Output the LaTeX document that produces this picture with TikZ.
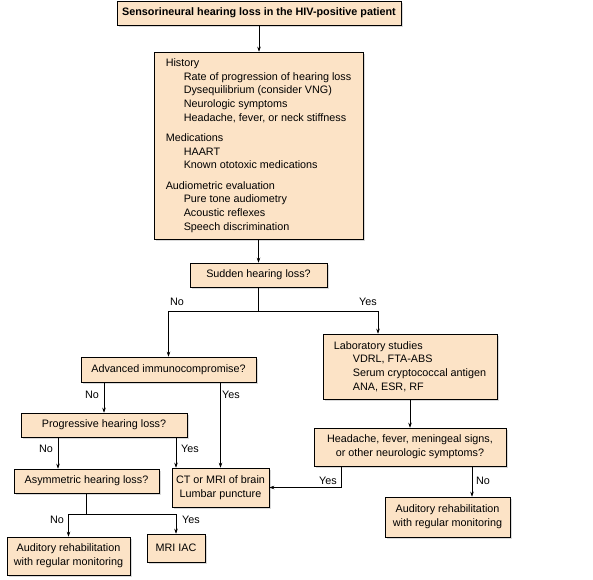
\documentclass[tikz,border=0pt]{standalone}
\usepackage{fontspec}
\setmainfont{Liberation Sans}
\usetikzlibrary{arrows.meta,shadows}

\definecolor{boxfill}{RGB}{252,227,198}

\tikzset{
	box/.style={draw, fill=boxfill, line width=0.6pt, inner sep=0pt, align=center,
		drop shadow={shadow xshift=1.5pt, shadow yshift=-1.5pt, fill=black!18, opacity=0.8}},
	arr/.style={-{Stealth[length=5pt, width=3.5pt]}, line width=0.6pt},
	line/.style={line width=0.6pt},
	lbl/.style={inner sep=0pt}
}

\begin{document}
\begin{tikzpicture}[x=1pt, y=-1pt, font=\fontsize{10.8}{13.7}\selectfont]

	\useasboundingbox (0,0) rectangle (593,579);

	% boxes
	\node[box, minimum width=284, minimum height=24, font=\fontsize{10.8}{13}\selectfont\bfseries] (title) at (259,13) {Sensorineural hearing loss in the HIV-positive patient};
	\node[box, minimum width=209, minimum height=187, align=left] (main) at (258.5,145.5)
		{History\\
		\hspace*{18pt}Rate of progression of hearing loss\\
		\hspace*{18pt}Dysequilibrium (consider VNG)\\
		\hspace*{18pt}Neurologic symptoms\\
		\hspace*{18pt}Headache, fever, or neck stiffness\\[6.5pt]
		Medications\\
		\hspace*{18pt}HAART\\
		\hspace*{18pt}Known ototoxic medications\\[6.5pt]
		Audiometric evaluation\\
		\hspace*{18pt}Pure tone audiometry\\
		\hspace*{18pt}Acoustic reflexes\\
		\hspace*{18pt}Speech discrimination};
	\node[box, minimum width=137, minimum height=24] (sudden) at (258.5,275) {Sudden hearing loss?};
	\node[box, minimum width=175, minimum height=25] (adv) at (168.5,369.5) {Advanced immunocompromise?};
	\node[box, minimum width=174, minimum height=65, align=left] (lab) at (410,366.5)
		{Laboratory studies\\
		\hspace*{19pt}VDRL, FTA-ABS\\
		\hspace*{19pt}Serum cryptococcal antigen\\
		\hspace*{19pt}ANA, ESR, RF};
	\node[box, minimum width=166, minimum height=24] (prog) at (104,425) {Progressive hearing loss?};
	\node[box, minimum width=145, minimum height=24] (asym) at (86.5,481) {Asymmetric hearing loss?};
	\node[box, minimum width=97, minimum height=39] (ct) at (220.5,487.5) {CT or MRI of brain\\Lumbar puncture};
	\node[box, minimum width=192, minimum height=38] (head) at (410,447) {Headache, fever, meningeal signs,\\or other neurologic symptoms?};
	\node[box, minimum width=125, minimum height=40] (audR) at (447.5,517) {Auditory rehabilitation\\with regular monitoring};
	\node[box, minimum width=123, minimum height=38] (audL) at (68.5,556) {Auditory rehabilitation\\with regular monitoring};
	\node[box, minimum width=58, minimum height=28] (mri) at (176,548) {MRI IAC};

	% connectors
	\draw[arr] (title.south) -- (title.south |- main.north);
	\draw[arr] (main.south) -- (sudden.north);
	\draw[line] (sudden.south) -- ++(0,24) coordinate (split);
	\draw[arr] (split) -| (adv.north);
	\draw[arr] (split) -| ([xshift=-32pt]lab.north);
	\draw[arr] (adv.south -| prog.north) -- (prog.north);
	\draw[arr] (adv.south -| ct.north) -- (ct.north);
	\draw[arr] ([xshift=-46pt]prog.south) -- ([xshift=-46pt]prog.south |- asym.north);
	\draw[arr] ([xshift=72pt]prog.south) -- ([xshift=72pt]prog.south |- ct.north);
	\draw[arr] (lab.south) -- (head.north);
	\draw[arr] ([xshift=-69pt]head.south) |- (ct.east);
	\draw[arr] ([xshift=62pt]head.south) -- ([xshift=62pt]head.south |- audR.north);
	\draw[line] (asym.south) -- ++(0,21) coordinate (asplit);
	\draw[arr] (asplit) -| (audL.north);
	\draw[arr] (asplit) -| (mri.north);

	% labels
	\node[lbl] (noSudden) at (177,302) {No};
	\node[lbl] (yesSudden) at (368,302) {Yes};
	\node[lbl] (noAdv) at (92,395) {No};
	\node[lbl] (yesAdv) at (231,395) {Yes};
	\node[lbl] (noProg) at (46,449) {No};
	\node[lbl] (yesProg) at (190,449) {Yes};
	\node[lbl] (yesHead) at (328,481) {Yes};
	\node[lbl] (noHead) at (483,481) {No};
	\node[lbl] (noAsym) at (57,520) {No};
	\node[lbl] (yesAsym) at (191,520) {Yes};

\end{tikzpicture}
\end{document}
